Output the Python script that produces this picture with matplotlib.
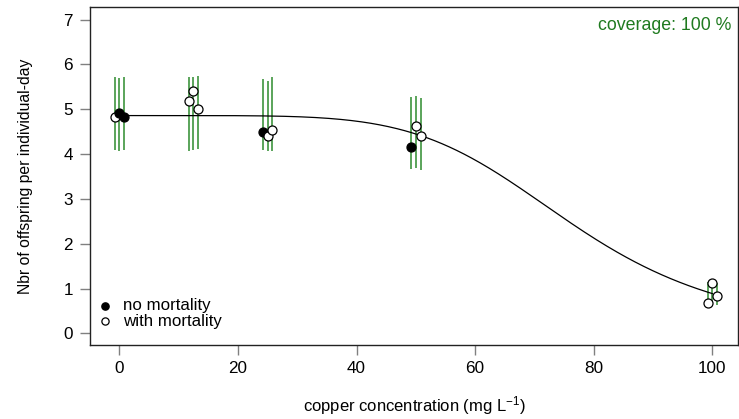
import numpy as np
import matplotlib
matplotlib.use("Agg")
import matplotlib.pyplot as plt

plt.rcParams["font.family"] = ["Liberation Sans", "DejaVu Sans"]
plt.rcParams["mathtext.fontset"] = "custom"
plt.rcParams["mathtext.rm"] = "Liberation Sans"
plt.rcParams["mathtext.it"] = "Liberation Sans:italic"

# Tested copper concentrations (mg/L) and the horizontal offset of each replicate
concentrations = [0, 12.5, 25, 50, 100]
replicate_offsets = [-0.8, 0.0, 0.8]

# Observed reproduction per replicate (offspring per individual-day)
observed = [
    [4.82, 4.91, 4.83],
    [5.19, 5.40, 5.01],
    [4.50, 4.40, 4.54],
    [4.15, 4.63, 4.40],
    [0.68, 1.12, 0.83],
]
# True where mortality occurred in the replicate
with_mortality = [
    [True, False, False],
    [True, True, True],
    [False, True, True],
    [False, True, True],
    [True, True, True],
]
# 95% prediction interval per replicate
pred_lower = [
    [4.09, 4.08, 4.09],
    [4.08, 4.09, 4.11],
    [4.09, 4.08, 4.06],
    [3.66, 3.68, 3.65],
    [0.63, 0.63, 0.63],
]
pred_upper = [
    [5.71, 5.70, 5.71],
    [5.72, 5.71, 5.74],
    [5.68, 5.64, 5.73],
    [5.28, 5.30, 5.25],
    [1.15, 1.13, 1.13],
]

# Fitted log-logistic reproduction model
d_max = 4.86
ec50 = 76.5
slope = 5.6

coverage_label = "coverage: 100 %"
x_ticks = [0, 20, 40, 60, 80, 100]
y_ticks = [0, 1, 2, 3, 4, 5, 6, 7]

green = "#2e8b2e"

fig = plt.figure(figsize=(7.39, 4.19), dpi=100)
ax = fig.add_axes([90.3 / 739, 74.3 / 419, 647.7 / 739, 337.7 / 419])

# prediction intervals
for ci, c in enumerate(concentrations):
    for ri, off in enumerate(replicate_offsets):
        ax.vlines(c + off, pred_lower[ci][ri], pred_upper[ci][ri],
                  color=green, lw=1.1, zorder=2)

# fitted curve
xs = np.linspace(0, 100, 400)
ys = d_max / (1 + (xs / ec50) ** slope)
ax.plot(xs, ys, color="black", lw=0.9, zorder=3)

# observations
for ci, c in enumerate(concentrations):
    for ri, off in enumerate(replicate_offsets):
        filled = not with_mortality[ci][ri]
        ax.plot(c + off, observed[ci][ri], "o", ms=6.5, mew=0.9,
                mec="black", mfc="black" if filled else "white", zorder=4)

# legend
ax.plot(0.0227, 0.1155, "o", ms=5.2, mec="black", mfc="black",
        transform=ax.transAxes, clip_on=False)
ax.plot(0.0227, 0.071, "o", ms=5.2, mew=0.9, mec="black", mfc="white",
        transform=ax.transAxes, clip_on=False)
ax.text(0.05, 0.1165, "no mortality", transform=ax.transAxes,
        va="center", ha="left", fontsize=12.2)
ax.text(0.05, 0.070, "with mortality", transform=ax.transAxes,
        va="center", ha="left", fontsize=12.2)

ax.text(0.99, 0.944, coverage_label, transform=ax.transAxes,
        ha="right", va="center", color="#1f7a1f", fontsize=12.8)

ax.set_xlim(-4.89, 104.33)
ax.set_ylim(-0.254, 7.283)
ax.set_xticks(x_ticks)
ax.set_yticks(y_ticks)
ax.tick_params(axis="both", direction="out", length=7.5, width=1.0,
               color="#808080", labelsize=12.3, pad=5)
ax.tick_params(axis="x", pad=4)
for s in ax.spines.values():
    s.set_color("#222222")
    s.set_linewidth(1.0)

ax.set_xlabel("copper concentration (mg L$^{-1}$)", fontsize=12, labelpad=13)
ax.set_ylabel("Nbr of offspring per individual-day", fontsize=11.3, labelpad=22)

fig.savefig("out.png", dpi=100)
